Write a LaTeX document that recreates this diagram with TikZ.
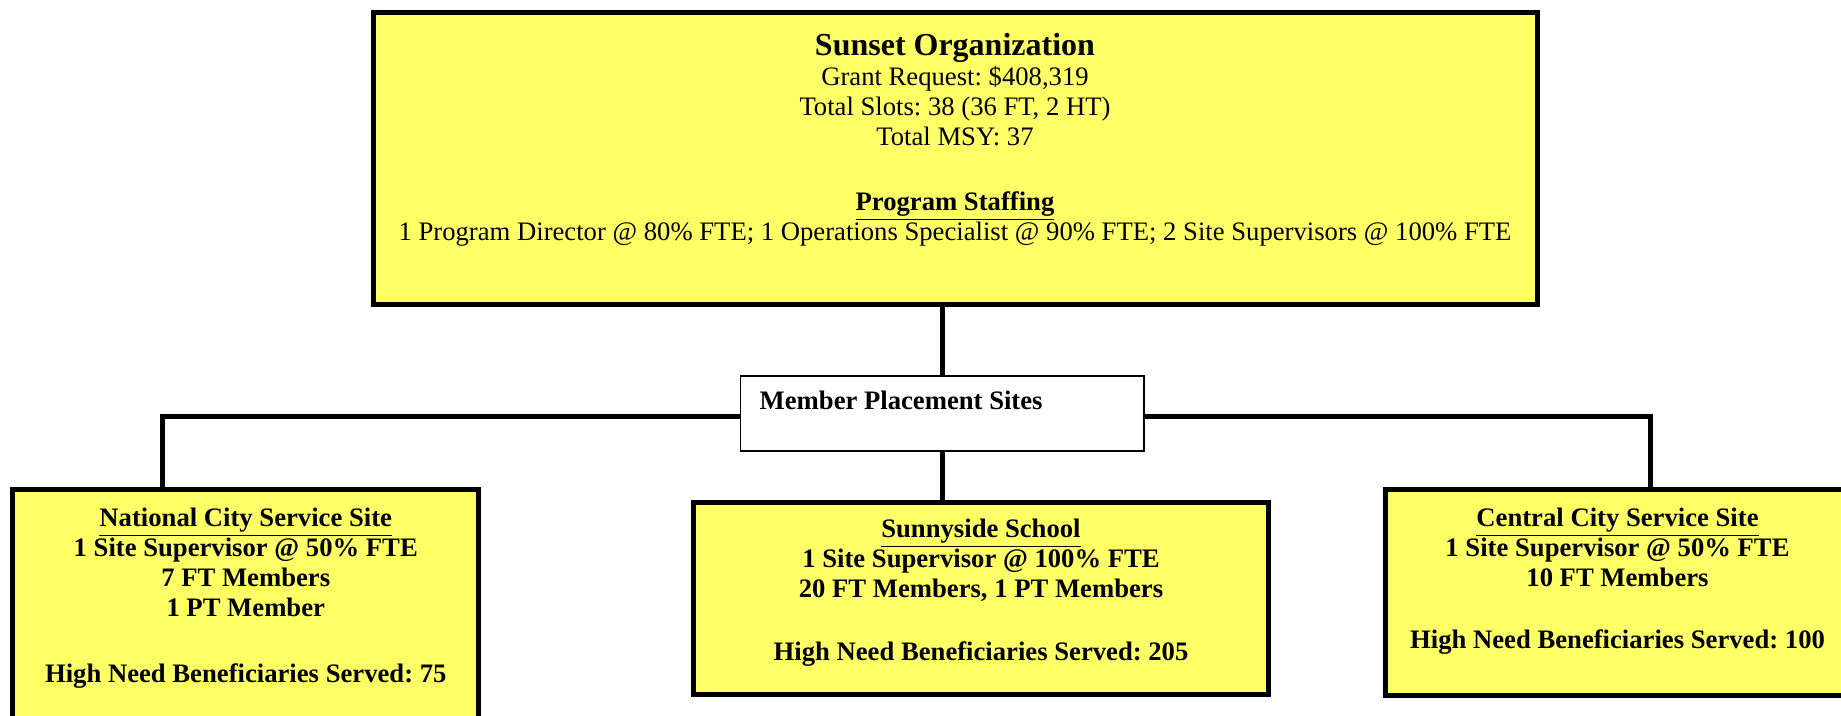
\documentclass[tikz,border=0pt,12pt]{standalone}
\usepackage{fontspec}
\setmainfont{Liberation Serif}
\usetikzlibrary{positioning}

\definecolor{boxyellow}{HTML}{FFFF66}
\frenchspacing

\begin{document}
\begin{tikzpicture}[
    x=0.45pt, y=-0.45pt,
    font=\fontsize{12}{13.5}\selectfont,
    box/.style={draw, line width=2.25pt, fill=boxyellow, inner sep=0pt},
    tagbox/.style={draw, line width=0.7pt, fill=white, inner sep=0pt},
    head/.style={align=center, inner sep=0pt, font=\fontsize{12}{13.5}\selectfont},
    sitetext/.style={align=center, inner sep=0pt, font=\fontsize{12}{13.5}\selectfont\bfseries},
    link/.style={line width=2.25pt}
]
\useasboundingbox (0,0) rectangle (1841,716);

% 1. Organization (top)
\node[box, minimum width=523.8pt, minimum height=131.4pt] (sunset) at (955,159) {};
\node[head, anchor=north, yshift=-10pt] (sunsettext) at (sunset.north) {
    {\fontsize{14.4}{13.5}\selectfont\bfseries Sunset Organization}\\
    Grant Request: \$408,319\\
    Total Slots: 38 (36 FT, 2 HT)\\
    Total MSY: 37\\[15.6pt]
    \textbf{\underline{Program Staffing}}\\
    1 Program Director @ 80\% FTE; 1 Operations Specialist @ 90\% FTE; 2 Site Supervisors @ 100\% FTE
};

% 2. Placement sites tag (middle)
\node[tagbox, minimum width=181.6pt, minimum height=33.8pt] (sites) at (942.25,413.4) {};
\node[sitetext, anchor=base west, xshift=8.8pt, yshift=-15.7pt] (sitestext) at (sites.north west) {Member Placement Sites};

% 3. Service sites (bottom)
\node[box, minimum width=209.9pt, minimum height=108.2pt] (natl) at (245.75,609.75) {};
\node[sitetext, anchor=north, yshift=-9.3pt] (natltext) at (natl.north) {
    \underline{National City Service Site}\\
    1 Site Supervisor @ 50\% FTE\\
    7 FT Members\\
    1 PT Member\\[16pt]
    High Need Beneficiaries Served: 75
};

\node[box, minimum width=258.75pt, minimum height=86.2pt] (sunny) at (981,598.25) {};
\node[sitetext, anchor=north, yshift=-8.3pt] (sunnytext) at (sunny.north) {
    \underline{Sunnyside School}\\
    1 Site Supervisor @ 100\% FTE\\
    20 FT Members, 1 PT Members\\[14.8pt]
    High Need Beneficiaries Served: 205
};

\node[box, minimum width=209.25pt, minimum height=92.25pt] (central) at (1617.5,592.5) {};
\node[sitetext, anchor=north, yshift=-9pt] (centraltext) at (central.north) {
    \underline{Central City Service Site}\\
    1 Site Supervisor @ 50\% FTE\\
    10 FT Members\\[14.5pt]
    High Need Beneficiaries Served: 100
};

% Connectors
\coordinate (lefttap) at (162,417);
\coordinate (righttap) at (1650,417);

\draw[link] (sites.north) -- (sites.north |- sunset.south);
\draw[link] (sites.south) -- (sites.south |- sunny.north);
\draw[link] (lefttap -| sites.west) -- (lefttap) -- (lefttap |- natl.north);
\draw[link] (righttap -| sites.east) -- (righttap) -- (righttap |- central.north);

\end{tikzpicture}
\end{document}
